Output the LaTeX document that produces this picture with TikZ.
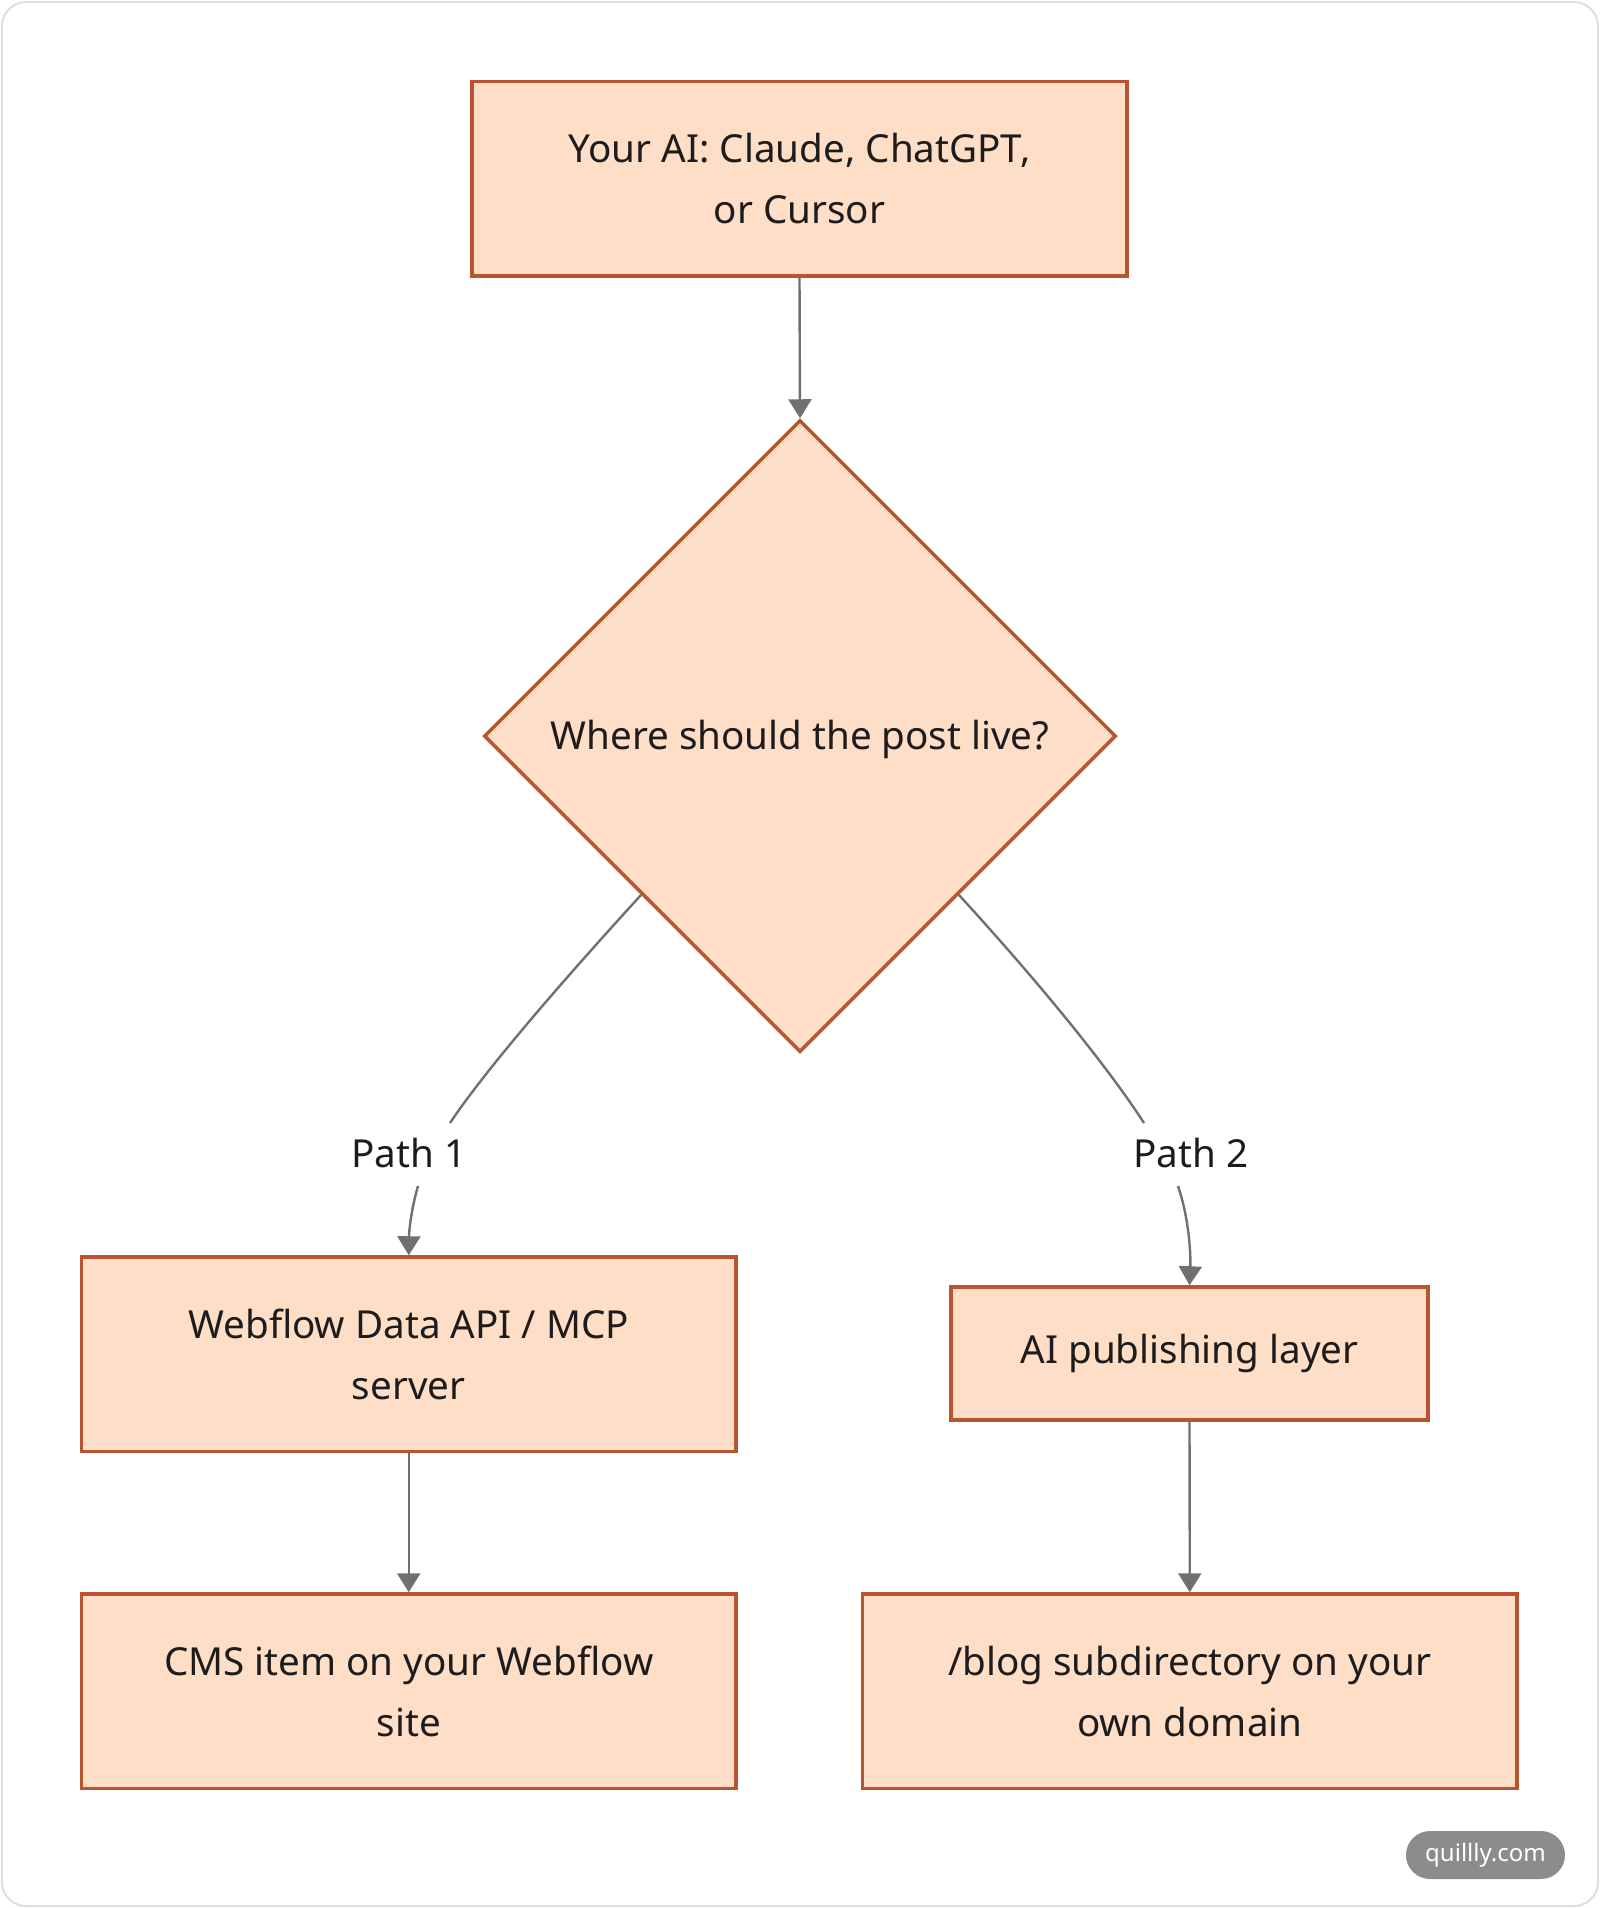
\documentclass[tikz,border=0pt]{standalone}
\usepackage{fontspec}
\setmainfont{Noto Sans}
\usetikzlibrary{shapes.geometric,arrows.meta}
\definecolor{boxfill}{RGB}{255,222,199}
\definecolor{boxline}{RGB}{185,84,48}
\definecolor{edgec}{RGB}{112,112,112}
\definecolor{framec}{RGB}{222,222,222}
\definecolor{badgec}{RGB}{140,140,140}
\definecolor{txt}{RGB}{28,28,28}
\begin{document}
\begin{tikzpicture}[x=0.5pt,y=-0.5pt,
  every node/.style={text=txt},
  flowbox/.style={draw=boxline,fill=boxfill,line width=1.75pt,inner sep=0pt,align=center,
    font=\fontsize{19.3}{30.5}\selectfont},
  decision/.style={flowbox,shape=diamond,aspect=1,minimum width=316pt,minimum height=316pt},
  conn/.style={draw=edgec,line width=1.2pt},
  arr/.style={conn,-{Triangle[length=9.5pt,width=11.5pt]}},
  lbl/.style={inner sep=0pt,font=\fontsize{19.3}{22}\selectfont}]
\useasboundingbox (0,0) rectangle (1600,1908);
\draw[framec,line width=1pt,rounded corners=12pt] (2,2) rectangle (1598,1906);

\node[flowbox,minimum width=327.5pt,minimum height=97.25pt] (top) at (799.5,178.75)
  {Your AI: Claude, ChatGPT,\\or Cursor};
\node[decision] (d) at (800,736) {};
\node[lbl] (dtext) at (800,739) {Where should the post live?};
\node[flowbox,minimum width=327.25pt,minimum height=97.25pt] (w) at (408.75,1354.25)
  {Webflow Data API / MCP\\server};
\node[flowbox,minimum width=238.5pt,minimum height=66.5pt] (ai) at (1189.5,1353.5)
  {AI publishing layer};
\node[flowbox,minimum width=327.25pt,minimum height=97.25pt] (cms) at (408.75,1691.25)
  {CMS item on your Webflow\\site};
\node[flowbox,minimum width=327.25pt,minimum height=97.25pt] (blog) at (1189.8,1691.25)
  {/blog subdirectory on your\\own domain};

\node[lbl] (p1) at (409,1153) {Path 1};
\node[lbl] (p2) at (1191,1153) {Path 2};
\coordinate (p1in) at (450,1123);
\coordinate (p1out) at (418,1186);
\coordinate (p2in) at (1144,1123);
\coordinate (p2out) at (1178,1186);

\draw[arr] (top.south) -- (d.north);
\draw[conn] (d.south west) .. controls (545,1000) and (480,1078) .. (p1in);
\draw[arr] (p1out) .. controls (411,1210) and (409,1232) .. (w.north);
\draw[conn] (d.south east) .. controls (1055,1000) and (1115,1078) .. (p2in);
\draw[arr] (p2out) .. controls (1188,1215) and (1191,1250) .. (ai.north);
\draw[arr] (w.south) -- (cms.north);
\draw[arr] (ai.south) -- (blog.north);

\node[fill=badgec,text=white,rounded corners=12pt,minimum width=79.5pt,minimum height=24pt,
  inner sep=0pt,font=\fontsize{12}{14}\selectfont] (badge) at (1485.5,1855) {quillly.com};
\end{tikzpicture}
\end{document}
